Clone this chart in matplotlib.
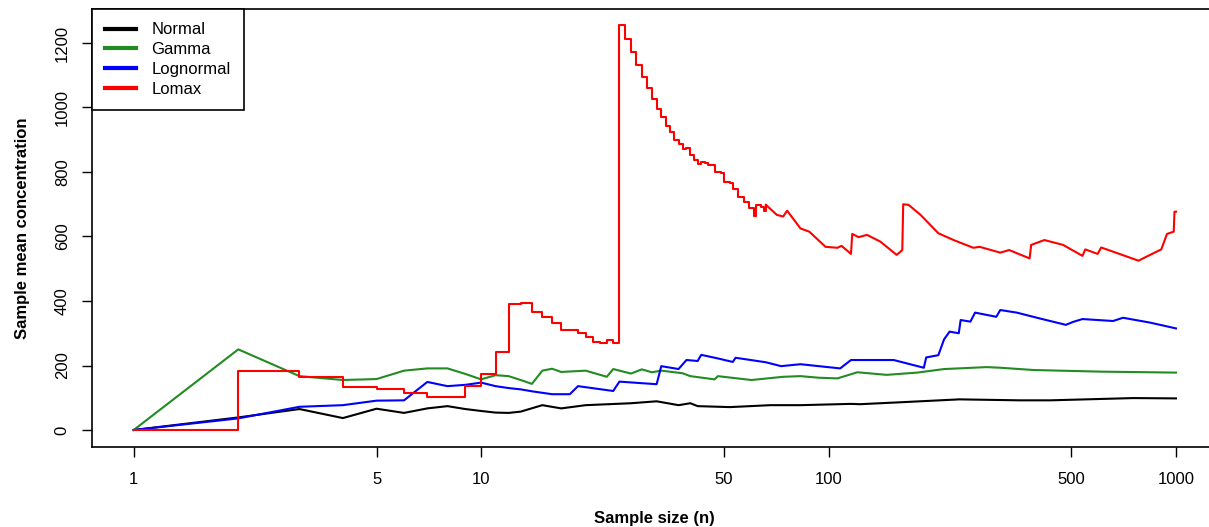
import matplotlib
matplotlib.use("Agg")
import matplotlib.pyplot as plt
import numpy as np
from matplotlib.ticker import FixedLocator, FixedFormatter, NullLocator

plt.rcParams['font.family'] = ['Liberation Sans', 'DejaVu Sans']

# ---- data ----
normal_n = [1, 2, 3, 4, 5, 6, 7, 8, 9, 10, 11, 12, 13, 15, 17, 20, 27, 32, 37, 40, 42,
            52, 68, 83, 116, 123, 161, 238, 355, 434, 754, 1000]
normal_v = [0, 39, 65, 37, 66, 53, 67, 74, 65, 59, 54, 53, 57, 77, 67, 77, 83, 89, 77, 83, 74,
            71, 77, 77, 81, 80, 86, 95, 92, 92, 99, 98]

gamma_n = [1, 2, 3, 4, 5, 6, 7, 8, 9, 10, 11, 12, 13, 14, 15, 16, 17, 20, 23, 24, 27, 29,
           31, 33, 38, 40, 47, 48, 60, 74, 83, 94, 106, 121, 147, 180, 215, 285, 313, 389,
           605, 1000]
gamma_v = [0, 250, 167, 155, 158, 184, 191, 191, 174, 157, 170, 167, 155, 143, 184, 190, 180,
           184, 165, 189, 175, 188, 179, 184, 176, 167, 157, 167, 155, 165, 167, 162, 160, 179,
           171, 178, 189, 195, 193, 186, 181, 178]

lognormal_n = [1, 2, 3, 4, 5, 6, 7, 8, 9, 10, 11, 12, 13, 14, 16, 18, 19, 24, 25, 32, 33, 37,
               39, 42, 43, 48, 53, 54, 66, 73, 83, 108, 116, 154, 188, 191, 207, 215, 223, 237,
               240, 256, 264, 304, 312, 348, 405, 482, 505, 538, 659, 704, 842, 1000]
lognormal_v = [0, 36, 72, 77, 91, 92, 149, 136, 140, 147, 136, 130, 126, 120, 111, 111, 136,
               121, 150, 142, 198, 189, 217, 214, 233, 222, 211, 224, 210, 198, 204, 191, 217,
               217, 193, 225, 232, 281, 305, 300, 341, 336, 364, 351, 372, 364, 346, 326, 335,
               344, 338, 348, 333, 315]

lomax_n = [1, 2, 3, 4, 5, 6, 7, 9, 10, 11, 12, 13, 14, 15, 16, 17, 19, 20, 21, 22, 23, 24,
           25, 26, 27, 28, 29, 30, 31, 32, 33, 34, 35, 36, 37, 38, 39, 40, 41, 42, 43, 44, 45,
           47, 49, 50, 52, 53, 55, 57, 59, 61, 62, 64, 65, 66,
           71, 74, 76, 83, 88, 98, 106, 109, 116, 117, 122, 129, 141, 157, 163, 164, 170, 184,
           207, 229, 261, 272, 312, 331, 379, 383, 418, 473, 538, 548, 595, 609, 780, 842,
           907, 942, 985, 990, 1000]
lomax_v = [0, 184, 165, 134, 127, 116, 101, 136, 174, 241, 390, 393, 367, 349, 331, 310, 300,
           289, 274, 269, 279, 269, 1256, 1211, 1171, 1132, 1096, 1060, 1025, 995, 971, 943,
           923, 899, 887, 870, 873, 853, 837, 825, 830, 829, 822, 799, 796, 770, 765, 746, 723,
           708, 687, 664, 698, 690, 680, 698,
           667, 662, 680, 625, 615, 568, 565, 571, 546, 608, 598, 605, 584, 543, 558, 700, 698,
           667, 610, 589, 565, 568, 550, 558, 532, 574, 589, 574, 540, 560, 546, 566, 525, 543,
           560, 608, 615, 677, 677]

x_ticks = [1, 5, 10, 50, 100, 500, 1000]
x_tick_labels = ["1", "5", "10", "50", "100", "500", "1000"]
y_ticks = [0, 200, 400, 600, 800, 1000, 1200]
y_tick_labels = ["0", "200", "400", "600", "800", "1000", "1200"]
step_until = 66  # Lomax drawn as a step function in its early part

# ---- figure ----
fig = plt.figure(figsize=(12.09, 5.27), dpi=100)
ax = fig.add_axes([92 / 1209, 80 / 527, 1125.7 / 1209, 438 / 527])

lw = 1.5
ax.plot(normal_n, normal_v, color='black', lw=lw, label='Normal')
ax.plot(gamma_n, gamma_v, color='#228B22', lw=lw, label='Gamma')
ax.plot(lognormal_n, lognormal_v, color='#0000FF', lw=lw, label='Lognormal')

ln = np.array(lomax_n)
lv = np.array(lomax_v)
early = ln <= step_until
late = ln >= step_until
ax.plot(ln[early], lv[early], color='#FF0000', lw=lw, drawstyle='steps-post', label='Lomax')
ax.plot(ln[late], lv[late], color='#FF0000', lw=lw)

ax.set_xscale('log')
ax.set_xlim(10 ** -0.12, 10 ** 3.12)
ax.set_ylim(-52.7, 1305.4)

ax.xaxis.set_major_locator(FixedLocator(x_ticks))
ax.xaxis.set_major_formatter(FixedFormatter(x_tick_labels))
ax.xaxis.set_minor_locator(NullLocator())
ax.yaxis.set_major_locator(FixedLocator(y_ticks))
ax.yaxis.set_major_formatter(FixedFormatter(y_tick_labels))

ax.tick_params(axis='both', direction='out', length=7, width=1.0, labelsize=12)
ax.tick_params(axis='x', pad=11)
ax.tick_params(axis='y', pad=9)
for lab in ax.get_yticklabels():
    lab.set_rotation(90)
    lab.set_va('center')

for s in ax.spines.values():
    s.set_linewidth(1.2)

ax.set_xlabel('Sample size (n)', fontsize=12, fontweight='bold', labelpad=17)
ax.set_ylabel('Sample mean concentration', fontsize=12, fontweight='bold', labelpad=18)

leg = ax.legend(loc='upper left', borderaxespad=0, fontsize=12, handlelength=1.85,
                handletextpad=0.9, labelspacing=0.29, borderpad=0.8, fancybox=False,
                framealpha=1, edgecolor='black')
leg.get_frame().set_linewidth(1.2)
for h in leg.get_lines():
    h.set_linewidth(3)

fig.savefig('out.png', dpi=100)
